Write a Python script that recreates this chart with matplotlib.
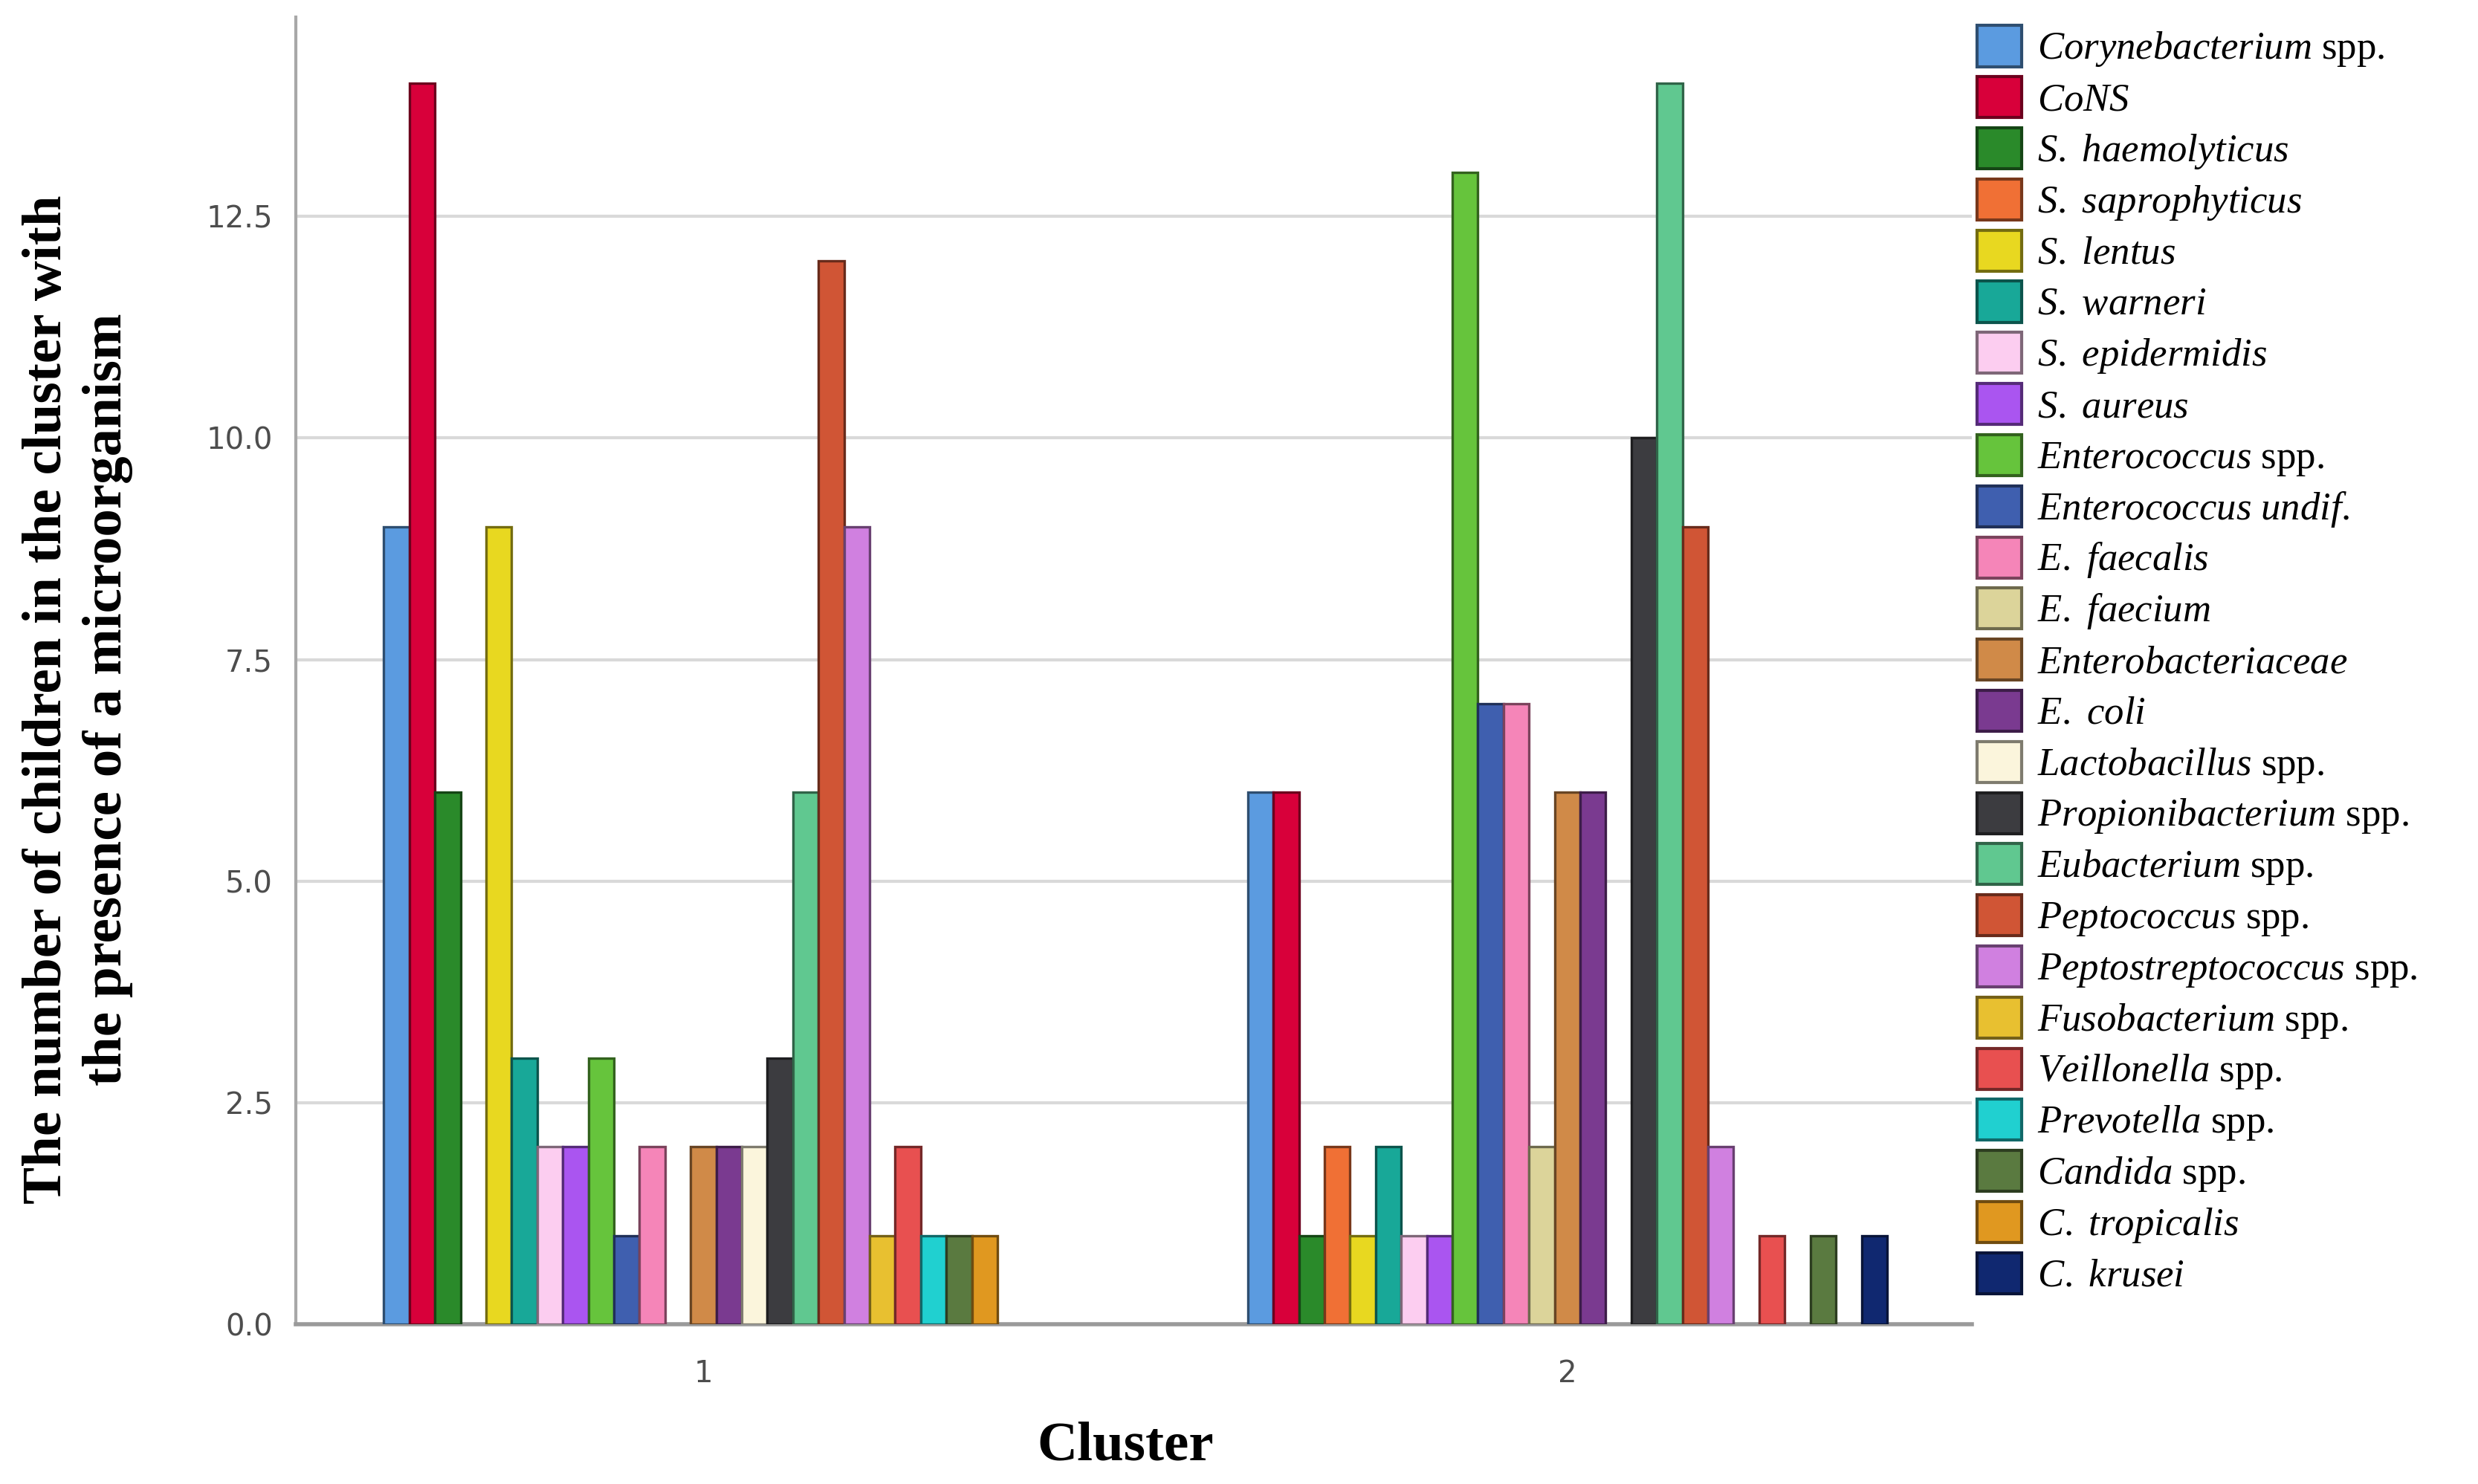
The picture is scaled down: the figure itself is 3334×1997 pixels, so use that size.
import numpy as np
import matplotlib
matplotlib.use("Agg")
import matplotlib.pyplot as plt
from matplotlib.patches import Rectangle
from matplotlib.colors import to_rgb

# ---------------- data ----------------
clusters = ["1", "2"]
organisms = [
    r"$\mathit{Corynebacterium}$ spp.",
    r"$\mathit{CoNS}$",
    r"$\mathit{S.\ haemolyticus}$",
    r"$\mathit{S.\ saprophyticus}$",
    r"$\mathit{S.\ lentus}$",
    r"$\mathit{S.\ warneri}$",
    r"$\mathit{S.\ epidermidis}$",
    r"$\mathit{S.\ aureus}$",
    r"$\mathit{Enterococcus}$ spp.",
    r"$\mathit{Enterococcus\ undif.}$",
    r"$\mathit{E.\ faecalis}$",
    r"$\mathit{E.\ faecium}$",
    r"$\mathit{Enterobacteriaceae}$",
    r"$\mathit{E.\ coli}$",
    r"$\mathit{Lactobacillus}$ spp.",
    r"$\mathit{Propionibacterium}$ spp.",
    r"$\mathit{Eubacterium}$ spp.",
    r"$\mathit{Peptococcus}$ spp.",
    r"$\mathit{Peptostreptococcus}$ spp.",
    r"$\mathit{Fusobacterium}$ spp.",
    r"$\mathit{Veillonella}$ spp.",
    r"$\mathit{Prevotella}$ spp.",
    r"$\mathit{Candida}$ spp.",
    r"$\mathit{C.\ tropicalis}$",
    r"$\mathit{C.\ krusei}$",
]
cluster1 = [9, 14, 6, 0, 9, 3, 2, 2, 3, 1, 2, 0, 2, 2, 2, 3, 6, 12, 9, 1, 2, 1, 1, 1, 0]
cluster2 = [6, 6, 1, 2, 1, 2, 1, 1, 13, 7, 7, 2, 6, 6, 0, 10, 14, 9, 2, 0, 1, 0, 1, 0, 1]
colors = [
    "#5b9be0", "#d8003a", "#2a8a2a", "#f07035", "#e8d820", "#18a898",
    "#fccdf0", "#aa55f0", "#66c43c", "#3f5faf", "#f585b8", "#dcd49a",
    "#d08a48", "#7a3a90", "#fbf5dc", "#3c3c40", "#60c890", "#d05535",
    "#d080e0", "#e8c030", "#e85050", "#20d0d0", "#5a7a40", "#e09820",
    "#102870",
]
yticks = [0.0, 2.5, 5.0, 7.5, 10.0, 12.5]

# ---------------- style ----------------
plt.rcParams['mathtext.fontset'] = 'custom'
plt.rcParams['mathtext.it'] = 'Liberation Serif:italic'
plt.rcParams['mathtext.rm'] = 'Liberation Serif'
plt.rcParams['mathtext.bf'] = 'Liberation Serif:bold'

W, H, DPI = 3334, 1997, 200
fig = plt.figure(figsize=(W / DPI, H / DPI), dpi=DPI)
ax = fig.add_axes([0.1193, 0.1077, 0.7957 - 0.1193, 0.9885 - 0.1077])

def darker(c, f=0.5):
    r, g, b = to_rgb(c)
    return (r * f, g * f, b * f)

n = len(organisms)
w = 0.0296
xc = np.arange(1, len(clusters) + 1)
values = np.array([cluster1, cluster2]).T  # shape (n, 2)
for i in range(n):
    bars = ax.bar(xc + (i - (n - 1) / 2) * w, values[i], width=w,
                  color=colors[i], edgecolor=darker(colors[i], 0.5),
                  linewidth=1.2, zorder=3)
    for b, v in zip(bars, values[i]):
        if v == 0:
            b.set_visible(False)

ax.set_xlim(0.528, 2.468)
ax.set_ylim(0, 14.75)
ax.set_xticks(xc)
ax.set_xticklabels(clusters)
ax.set_yticks(yticks)
ax.set_yticklabels([f"{t:.1f}" for t in yticks])
ax.tick_params(axis='both', length=0, labelsize=14.5, labelcolor='#4d4d4d')
ax.tick_params(axis='y', pad=11)
ax.tick_params(axis='x', pad=17)
for lab in ax.get_xticklabels() + ax.get_yticklabels():
    lab.set_family(['DejaVu Sans'])

ax.set_axisbelow(True)
ax.yaxis.grid(True, color='#d9d9d9', linewidth=1.5, zorder=0)
ax.xaxis.grid(False)
ax.spines['top'].set_visible(False)
ax.spines['right'].set_visible(False)
ax.spines['left'].set_color('#a8a8a8')
ax.spines['left'].set_linewidth(1.5)
ax.spines['bottom'].set_color('#9a9a9a')
ax.spines['bottom'].set_linewidth(2.0)

ax.set_ylabel("The number of children in the cluster with\nthe presence of a microorganism",
              family='Liberation Serif', weight='bold', fontsize=27,
              linespacing=1.25, multialignment='center')
ax.yaxis.set_label_coords(-0.097, 0.478)
ax.set_xlabel("Cluster", family='Liberation Serif', weight='bold', fontsize=27)
ax.xaxis.set_label_coords(0.495, -0.074)

# ---------------- legend (manual, uniform rows) ----------------
fs = 19
fs_px = fs * DPI / 72
for i in range(n):
    yc = 62 + i * 68.8  # px from top
    rect = Rectangle((2660 / W, 1 - (yc + 27.5) / H), 60 / W, 55 / H,
                     transform=fig.transFigure, facecolor=colors[i],
                     edgecolor=darker(colors[i], 0.5), linewidth=1.5)
    fig.patches.append(rect)
    fig.text(2741 / W, 1 - (yc + 0.33 * fs_px) / H, organisms[i],
             family=['Liberation Serif', 'DejaVu Serif'], fontsize=fs,
             va='baseline', ha='left', color='black')

fig.savefig("out.png", dpi=DPI, facecolor='white')
